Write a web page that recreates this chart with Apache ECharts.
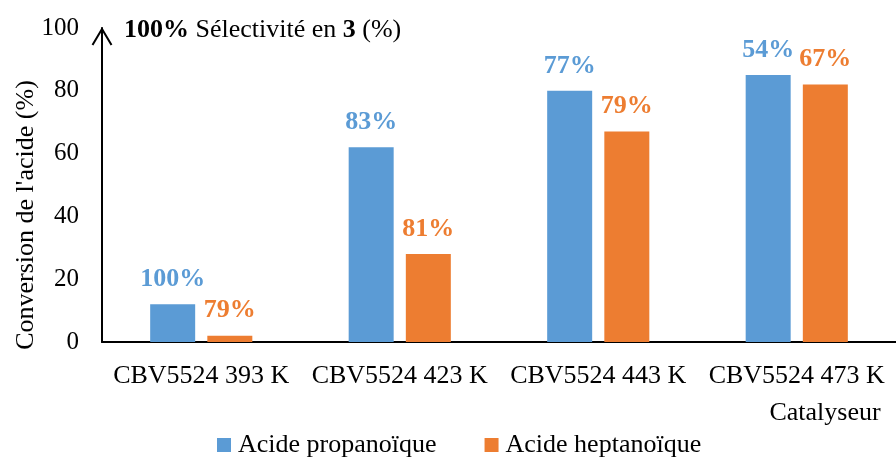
<!DOCTYPE html>
<html>
<head>
<meta charset="utf-8">
<script src="https://cdn.jsdelivr.net/npm/echarts@6/dist/echarts.min.js"></script>
<style>
  html, body { margin: 0; padding: 0; background: #fff; }
  #chart { width: 896px; height: 459px; }
</style>
</head>
<body>
<div id="chart"></div>
<script>
// Catalysts (x categories)
const catalysts = ['CBV5524 393 K', 'CBV5524 423 K', 'CBV5524 443 K', 'CBV5524 473 K'];
// Acid conversion (%)
const propanoicConversion = [12, 62, 80, 85];
const heptanoicConversion = [2, 28, 67, 82];
// Selectivity towards product 3 (%), written above each bar
const propanoicSelectivity = [100, 83, 77, 54];
const heptanoicSelectivity = [79, 81, 79, 67];
// Y axis ticks
const yMin = 0, yMax = 100, yStep = 20;

const FONT = '"Liberation Serif", "Times New Roman", serif';
const BLUE = '#5B9BD5';
const ORANGE = '#ED7D31';
const GRID_LEFT = 102;

const chart = echarts.init(document.getElementById('chart'), null, { renderer: 'canvas' });

function barSeries(name, values, selectivity, color) {
  return {
    name: name,
    type: 'bar',
    data: values,
    barWidth: 45,
    barGap: '27%',
    itemStyle: { color: color },
    label: {
      show: true,
      position: 'top',
      distance: 12,
      formatter: p => selectivity[p.dataIndex] + '%',
      color: color,
      fontFamily: FONT,
      fontWeight: 'bold',
      fontSize: 26
    }
  };
}

chart.setOption({
  animation: false,
  backgroundColor: '#fff',
  textStyle: { fontFamily: FONT, color: '#000' },
  grid: { left: GRID_LEFT, top: 28, width: 806, height: 314, containLabel: false },
  legend: {
    left: 212,
    top: 427,
    itemWidth: 14,
    itemHeight: 14,
    itemGap: 48,
    icon: 'rect',
    textStyle: { fontFamily: FONT, fontSize: 26, color: '#000', padding: [0, 0, 0, 2] },
    data: ['Acide propanoïque', 'Acide heptanoïque']
  },
  xAxis: {
    type: 'category',
    data: catalysts,
    axisLine: { lineStyle: { color: '#000', width: 2 } },
    axisTick: { show: false },
    axisLabel: { fontFamily: FONT, fontSize: 26, color: '#000', margin: 21, interval: 0 },
    splitLine: { show: false }
  },
  yAxis: {
    type: 'value',
    min: yMin,
    max: yMax,
    interval: yStep,
    axisLine: { show: true, lineStyle: { color: '#000', width: 2 } },
    axisTick: { show: false },
    axisLabel: { fontFamily: FONT, fontSize: 25, color: '#000', margin: 23 },
    splitLine: { show: false }
  },
  series: [
    barSeries('Acide propanoïque', propanoicConversion, propanoicSelectivity, BLUE),
    barSeries('Acide heptanoïque', heptanoicConversion, heptanoicSelectivity, ORANGE)
  ]
});

// Open arrowhead at the top of the y axis, plus free-standing titles
const ax = GRID_LEFT;
const ay = chart.convertToPixel({ yAxisIndex: 0 }, yMax) + 1;

chart.setOption({
  graphic: [
    {
      type: 'polyline',
      shape: { points: [[ax - 9.5, ay + 16], [ax, ay], [ax + 9.5, ay + 16]] },
      style: { stroke: '#000', lineWidth: 2, fill: null },
      z: 10
    },
    {
      type: 'text',
      left: 124,
      top: 17,
      style: {
        text: '{b|100%} Sélectivité en {b|3} (%)',
        fontFamily: FONT,
        fontSize: 26,
        fill: '#000',
        rich: {
          b: { fontFamily: FONT, fontSize: 26, fontWeight: 'bold', fill: '#000' }
        }
      }
    },
    {
      type: 'text',
      x: 26,
      y: 215,
      rotation: Math.PI / 2,
      style: {
        text: "Conversion de l'acide (%)",
        fontFamily: FONT,
        fontSize: 26,
        fill: '#000',
        align: 'center',
        verticalAlign: 'middle'
      }
    },
    {
      type: 'text',
      x: 825,
      y: 413,
      style: {
        text: 'Catalyseur',
        fontFamily: FONT,
        fontSize: 26,
        fill: '#000',
        align: 'center',
        verticalAlign: 'middle'
      }
    }
  ]
});
</script>
</body>
</html>
